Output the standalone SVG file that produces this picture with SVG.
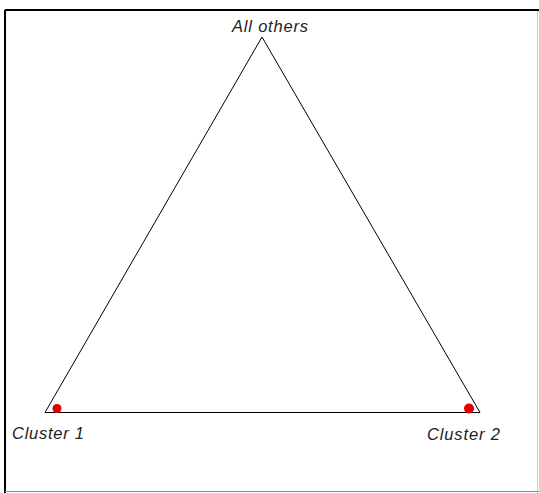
<svg xmlns="http://www.w3.org/2000/svg" width="539" height="493" viewBox="0 0 539 493">
<style>
.lbl{font-family:"Liberation Sans",Arial,sans-serif;font-style:italic;font-size:16.5px;fill:#222}
.dot{fill:#e00000}
</style>
<rect x="0" y="0" width="539" height="493" fill="#fff"/>
<g id="frame">
<line x1="5" y1="10" x2="539" y2="10" stroke="#000" stroke-width="2"/>
<line x1="5" y1="10" x2="5" y2="493" stroke="#000" stroke-width="2"/>
<line x1="537.5" y1="11" x2="537.5" y2="493" stroke="#ccc" stroke-width="1"/>
<line x1="5" y1="491.5" x2="539" y2="491.5" stroke="#888" stroke-width="1"/>
</g>
<g id="connectors" stroke="#000" stroke-width="1" fill="none">
<line x1="262" y1="37" x2="45" y2="412.5"/>
<line x1="262" y1="37" x2="480" y2="412.5"/>
<line x1="45" y1="412.5" x2="480" y2="412.5"/>
</g>
<g id="all-others"><text class="lbl" x="232" y="32" textLength="76" lengthAdjust="spacing">All others</text></g>
<g id="cluster-1">
<circle class="dot" cx="57" cy="408.5" r="4.5"/>
<text class="lbl" x="12" y="439" textLength="72" lengthAdjust="spacing">Cluster 1</text>
</g>
<g id="cluster-2">
<circle class="dot" cx="469" cy="408.5" r="5"/>
<text class="lbl" x="427" y="440" textLength="73" lengthAdjust="spacing">Cluster 2</text>
</g>
</svg>
